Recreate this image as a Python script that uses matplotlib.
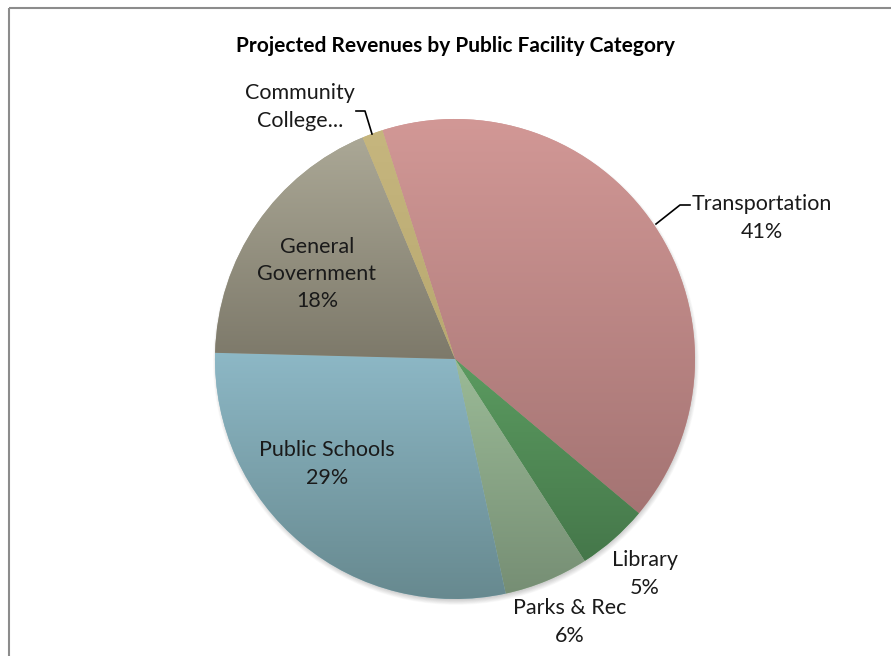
import numpy as np
import matplotlib
matplotlib.use("Agg")
import matplotlib.pyplot as plt
from matplotlib.patches import Circle
from matplotlib.colors import LinearSegmentedColormap

# Revenue shares by facility category (percent of total)
categories = ["Transportation", "Library", "Parks & Rec", "Public Schools",
              "General\nGovernment", "Community\nCollege..."]
shares = [41.0, 4.8, 5.7, 28.8, 18.3, 1.4]

# top / bottom gradient colours for each slice
top_colors = ["#d29896", "#5b9b60", "#9bbb97", "#8db8c6", "#aba896", "#c6b67e"]
bottom_colors = ["#a47473", "#45774a", "#768e74", "#67898f", "#7d796a", "#b8a870"]

W, H = 891, 656
fig = plt.figure(figsize=(W / 100, H / 100), dpi=100)
ax = fig.add_axes([0, 0, 1, 1])

def py(y):
    # pixel row (from top) -> data y
    return H - y

cx, cy, radius = 455, py(359), 240

# soft drop shadow under the pie
for i in range(8):
    ax.add_patch(Circle((cx + 1, cy - 3), radius - 2 + i * 0.7,
                        facecolor="#000000", alpha=0.025, lw=0, zorder=0))

wedges, _ = ax.pie(shares, startangle=107.6, counterclock=False,
                   center=(cx, cy), radius=radius,
                   colors=top_colors, wedgeprops=dict(linewidth=0))

# vertical gradient inside each wedge
for w, c0, c1 in zip(wedges, top_colors, bottom_colors):
    ext = w.get_path().get_extents()
    cmap = LinearSegmentedColormap.from_list("g", [c1, c0])
    grad = np.linspace(0, 1, 256).reshape(-1, 1)
    im = ax.imshow(grad, cmap=cmap, origin="lower", aspect="auto",
                   extent=(ext.x0 - 1, ext.x1 + 1, ext.y0 - 1, ext.y1 + 1),
                   interpolation="bilinear", zorder=2)
    im.set_clip_path(w)

ax.set_xlim(0, W)
ax.set_ylim(0, H)
ax.set_aspect("auto")
ax.axis("off")

font = "Lato"
pcts = [f"{round(s):.0f}%" for s in shares]

ax.text(455, py(46), "Projected Revenues by Public Facility Category",
        ha="center", va="center", fontsize=15, fontweight="bold",
        family=font, color="#000000")

label_pos = {
    0: (762, 218),
    1: (645, 574),
    2: (570, 622),
    3: (327, 464),
    4: (317, 274),
}
for i, (x, y) in label_pos.items():
    ax.text(x, py(y), f"{categories[i]}\n{pcts[i]}", ha="center", va="center",
            fontsize=15.5, family=font, color="#1a1a1a", linespacing=1.45,
            zorder=5)
ax.text(300, py(107), categories[5], ha="center", va="center",
        fontsize=15.5, family=font, color="#1a1a1a", linespacing=1.45, zorder=5)

# leader lines
ax.plot([356, 365, 372], [py(111), py(111), py(134)], color="black", lw=1.2, zorder=5)
ax.plot([656, 680, 690], [py(224), py(205), py(205)], color="black", lw=1.2, zorder=5)

# chart area border (top and left edges)
ax.plot([9, W], [py(8), py(8)], color="#8c8c8c", lw=1.5, solid_capstyle="butt")
ax.plot([9, 9], [py(8), 0], color="#8c8c8c", lw=1.5, solid_capstyle="butt")

fig.savefig("out.png", dpi=100, facecolor="white")
